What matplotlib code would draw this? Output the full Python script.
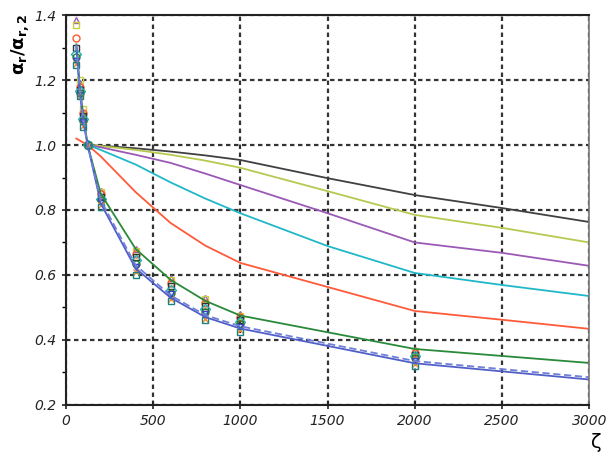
import numpy as np
import matplotlib.pyplot as plt

# upper curves (lines only)
z_up = [125, 200, 400, 600, 800, 1000, 1500, 2000, 2500, 3000]
black = [1.0, 0.998, 0.99, 0.98, 0.968, 0.954, 0.898, 0.846, 0.806, 0.763]
yellow = [1.0, 0.997, 0.985, 0.97, 0.952, 0.93, 0.858, 0.785, 0.745, 0.70]
purple = [1.0, 0.993, 0.97, 0.945, 0.912, 0.877, 0.79, 0.70, 0.668, 0.628]
cyan = [1.0, 0.985, 0.94, 0.885, 0.835, 0.79, 0.689, 0.606, 0.569, 0.535]
z_or = [60, 125, 200, 400, 600, 800, 1000, 1500, 2000, 2500, 3000]
orange = [1.02, 1.0, 0.965, 0.855, 0.76, 0.69, 0.637, 0.563, 0.489, 0.462, 0.434]

# lower group: fitted lines
z_low = [60, 80, 100, 125, 200, 400, 600, 800, 1000, 2000, 3000]
green = [1.31, 1.18, 1.09, 1.0, 0.85, 0.68, 0.585, 0.52, 0.475, 0.372, 0.329]
blue = [1.30, 1.16, 1.07, 1.0, 0.82, 0.62, 0.53, 0.47, 0.435, 0.328, 0.278]
blue_d = [1.31, 1.17, 1.08, 1.0, 0.83, 0.63, 0.537, 0.476, 0.442, 0.335, 0.285]

# lower group: marker series (one value per marker column)
z_mk = [60, 80, 100, 125, 200, 400, 600, 800, 1000, 2000]
mk_series = [
    ([1.385, 1.19, 1.10, 1.0, 0.86, 0.68, 0.59, 0.53, 0.48, 0.37], '#9b59b6', '^'),
    ([1.37, 1.20, 1.11, 1.0, 0.855, 0.675, 0.585, 0.525, 0.475, 0.365], '#c8d040', 's'),
    ([1.33, 1.18, 1.10, 1.0, 0.85, 0.665, 0.575, 0.515, 0.47, 0.36], '#ff5a2a', 'o'),
    ([1.30, 1.17, 1.09, 1.0, 0.84, 0.655, 0.565, 0.505, 0.46, 0.355], '#333333', 's'),
    ([1.28, 1.165, 1.08, 1.0, 0.835, 0.645, 0.555, 0.495, 0.455, 0.35], '#20b0b0', 'D'),
    ([1.27, 1.16, 1.075, 1.0, 0.83, 0.635, 0.545, 0.485, 0.45, 0.345], '#2a7a2a', 'o'),
    ([1.26, 1.155, 1.07, 1.0, 0.825, 0.625, 0.54, 0.48, 0.44, 0.335], '#4040c0', 'v'),
    ([1.25, 1.15, 1.06, 1.0, 0.815, 0.61, 0.525, 0.465, 0.43, 0.325], '#ff8c30', 'x'),
    ([1.245, 1.15, 1.055, 1.0, 0.81, 0.60, 0.52, 0.46, 0.425, 0.32], '#1a8080', 's'),
]

fig = plt.figure(figsize=(6.1, 4.59), dpi=100)
ax = fig.add_axes([0.108, 0.118, 0.858, 0.849])

ax.plot(z_up, black, color='#404040', lw=1.3)
ax.plot(z_up, yellow, color='#b8c850', lw=1.3)
ax.plot(z_up, purple, color='#9b59b6', lw=1.3)
ax.plot(z_up, cyan, color='#20b8c8', lw=1.3)
ax.plot(z_or, orange, color='#ff5a3a', lw=1.3)

for vals, col, mk in mk_series:
    ax.plot(z_mk, vals, ls='none', marker=mk, ms=5, mfc='none', mec=col, mew=1.0)

ax.plot(z_low, green, color='#2a8a3a', lw=1.3)
ax.plot(z_low, blue, color='#5060c8', lw=1.3)
ax.plot(z_low, blue_d, color='#7080d8', lw=1.3, ls=(0, (4, 2)))

ax.set_xlim(0, 3000)
ax.set_ylim(0.2, 1.4)
ax.set_xticks(np.arange(0, 3001, 500))
ax.set_yticks(np.arange(0.2, 1.41, 0.2))
ax.set_yticks(np.arange(0.3, 1.4, 0.2), minor=True)
ax.set_xticklabels([str(v) for v in range(0, 3001, 500)], fontstyle='italic', fontsize=10)
ax.set_yticklabels(['%.1f' % v for v in np.arange(0.2, 1.41, 0.2)], fontstyle='italic', fontsize=10)
ax.tick_params(which='major', length=6, width=1.2, direction='inout', colors='#222222')
ax.tick_params(which='minor', length=3, width=1.0, direction='out')
ax.grid(True, which='major', color='#333333', lw=1.6, ls=(0, (2, 1.6)))

for s in ['left', 'bottom', 'top']:
    ax.spines[s].set_linewidth(1.5)
    ax.spines[s].set_color('#222222')
ax.spines['right'].set_color('#777777')
ax.spines['right'].set_linewidth(1.2)

fig.text(0.033, 0.97, r'$\mathbf{\alpha_r/\alpha_{r,2}}$', rotation=90, fontsize=13,
         ha='center', va='top', fontweight='bold')
fig.text(0.978, 0.015, 'ζ', fontsize=14, ha='center', va='bottom')

fig.savefig('out.png', dpi=100)
